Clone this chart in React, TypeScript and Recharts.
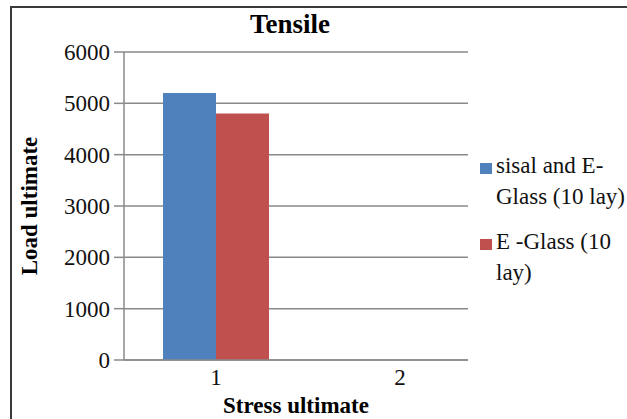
import React from "react";
import { BarChart, Bar, XAxis, YAxis, CartesianGrid } from "recharts";

const categories = ["1", "2"];
const sisalGlass = [5200, null];
const eGlass = [4800, null];
const yTicks = [0, 1000, 2000, 3000, 4000, 5000, 6000];

const data = categories.map((c, i) => ({ name: c, sisal: sisalGlass[i], eglass: eGlass[i] }));

const FONT = '"Liberation Serif", "Times New Roman", serif';

const legendItems = [
  { color: "#4F81BD", lines: ["sisal and E-", "Glass (10 lay)"] },
  { color: "#C0504D", lines: ["E -Glass (10", "lay)"] },
];

function LegendBox() {
  return (
    <div style={{ position: "absolute", left: 480, top: 150, width: 160, fontFamily: FONT, fontSize: 23, color: "#111", lineHeight: "31px" }}>
      {legendItems.map((it, i) => (
        <div key={i} style={{ display: "flex", alignItems: "flex-start", marginBottom: i === 0 ? 14 : 0 }}>
          <span style={{ width: 12, height: 11, background: it.color, marginTop: 13, marginRight: 4, flex: "none" }} />
          <span style={{ whiteSpace: "nowrap" }}>
            {it.lines.map((l, j) => (
              <div key={j}>{l}</div>
            ))}
          </span>
        </div>
      ))}
    </div>
  );
}

export default function App() {
  return (
    <div style={{ position: "fixed", left: 0, top: 0, width: 627, height: 419, background: "#fff", overflow: "hidden" }}>
      <div style={{ position: "absolute", left: 10, top: 6, width: 640, height: 430, border: "2px solid #3a3a3a", boxSizing: "border-box" }} />
      <div style={{ position: "absolute", left: 190, width: 200, top: 8, textAlign: "center", fontFamily: FONT, fontWeight: "bold", fontSize: 27, lineHeight: "32px", color: "#000" }}>
        Tensile
      </div>
      <BarChart width={627} height={419} data={data} margin={{ top: 52, right: 159, left: 0, bottom: 0 }} barGap={0} barSize={53}>
        <CartesianGrid vertical={false} stroke="#8a8a8a" strokeWidth={1.5} />
        <XAxis
          dataKey="name"
          height={59}
          padding={{ left: 0, right: -24 }}
          tickLine={false}
          axisLine={{ stroke: "#8a8a8a", strokeWidth: 1.5 }}
          tick={{ fontFamily: FONT, fontSize: 23, fill: "#111" }}
          tickMargin={3}
          label={{ value: "Stress ultimate", position: "insideBottom", offset: 6, style: { fontFamily: FONT, fontWeight: "bold", fontSize: 23, fill: "#000" } }}
        />
        <YAxis
          width={124}
          domain={[0, 6000]}
          ticks={yTicks}
          tickSize={10}
          tickMargin={4}
          tickLine={{ stroke: "#8a8a8a", strokeWidth: 1.5 }}
          axisLine={{ stroke: "#8a8a8a", strokeWidth: 1.5 }}
          tick={{ fontFamily: FONT, fontSize: 23, fill: "#111" }}
          label={{ value: "Load ultimate", angle: -90, position: "insideLeft", offset: 29, style: { textAnchor: "middle", fontFamily: FONT, fontWeight: "bold", fontSize: 23, fill: "#000" } }}
        />
        <Bar dataKey="sisal" name="sisal and E-Glass (10 lay)" fill="#4F81BD" isAnimationActive={false} />
        <Bar dataKey="eglass" name="E -Glass (10 lay)" fill="#C0504D" isAnimationActive={false} />
      </BarChart>
      <LegendBox />
    </div>
  );
}
